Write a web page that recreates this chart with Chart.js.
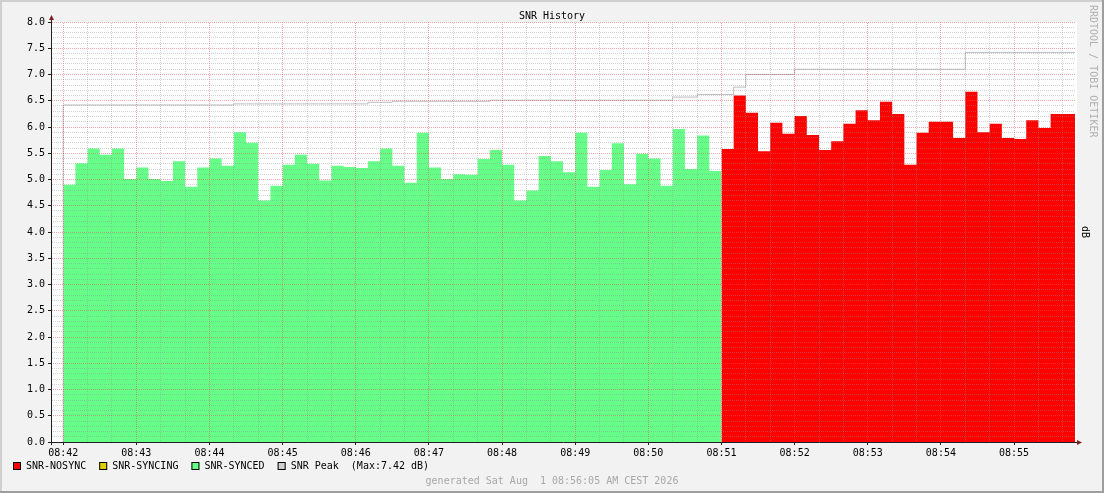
<!DOCTYPE html>
<html>
<head>
<meta charset="utf-8">
<title>SNR History</title>
<script src="https://cdn.jsdelivr.net/npm/chart.js@4.4.1/dist/chart.umd.min.js"></script>
<style>
  html, body { margin: 0; padding: 0; background: #f2f2f2; }
  canvas { display: block; }
</style>
</head>
<body>
<canvas id="snrChart" width="1104" height="493"></canvas>
<script>
  /* Data: one sample every 10 s, first sample at 08:42:00 */
  const sampleStep = 10;

  const syncedSnr = [
    4.90, 5.31, 5.59, 5.47, 5.59, 5.01, 5.23, 5.01, 4.97, 5.35,
    4.86, 5.23, 5.40, 5.26, 5.90, 5.70, 4.60, 4.88, 5.28, 5.47,
    5.30, 4.98, 5.26, 5.24, 5.22, 5.35, 5.59, 5.26, 4.94, 5.89,
    5.23, 5.01, 5.10, 5.09, 5.39, 5.56, 5.28, 4.60, 4.79, 5.45,
    5.35, 5.14, 5.89, 4.86, 5.18, 5.69, 4.91, 5.49, 5.40, 4.88,
    5.96, 5.20, 5.84, 5.16
  ];

  const nosyncSnr = [
    5.58, 6.60, 6.27, 5.54, 6.08, 5.87, 6.21, 5.85, 5.56, 5.73,
    6.06, 6.32, 6.13, 6.48, 6.25, 5.28, 5.89, 6.10, 6.10, 5.79,
    6.67, 5.90, 6.06, 5.79, 5.77, 6.13, 5.98, 6.25, 6.25
  ];

  const syncingSnr = [];

  const peakSnr = [
    6.42, 6.42, 6.42, 6.42, 6.42, 6.42, 6.42, 6.42, 6.42, 6.42,
    6.42, 6.42, 6.42, 6.42, 6.44, 6.44, 6.44, 6.44, 6.44, 6.44,
    6.44, 6.44, 6.44, 6.44, 6.44, 6.47, 6.47, 6.49, 6.49, 6.49,
    6.49, 6.49, 6.49, 6.49, 6.49, 6.51, 6.51, 6.51, 6.51, 6.51,
    6.51, 6.51, 6.51, 6.51, 6.51, 6.51, 6.51, 6.51, 6.51, 6.51,
    6.57, 6.57, 6.62, 6.62, 6.62, 6.76, 7.00, 7.00, 7.00, 7.00,
    7.10, 7.10, 7.10, 7.10, 7.10, 7.10, 7.10, 7.10, 7.10, 7.10,
    7.10, 7.10, 7.10, 7.10, 7.42, 7.42, 7.42, 7.42, 7.42, 7.42,
    7.42, 7.42, 7.42
  ];

  const timeLabels = [
    '08:42', '08:43', '08:44', '08:45', '08:46', '08:47', '08:48',
    '08:49', '08:50', '08:51', '08:52', '08:53', '08:54', '08:55'
  ];

  const yTicks = [0, 0.5, 1, 1.5, 2, 2.5, 3, 3.5, 4, 4.5, 5, 5.5, 6, 6.5, 7, 7.5, 8];

  const generatedText = 'generated Sat Aug  1 08:56:05 AM CEST 2026';

  const ctx = document.getElementById('snrChart').getContext('2d');

  /* Colors */
  const FONT = 'DejaVu Sans Mono';
  const colAxis = '#202020';
  const colArrow = '#801f1f';

  // 1-on-1-off dotted grid: a checker pattern used as the line colour
  function dotPattern(color) {
    const p = document.createElement('canvas');
    p.width = 2;
    p.height = 2;
    const pc = p.getContext('2d');
    pc.fillStyle = color;
    pc.fillRect(0, 0, 1, 1);
    pc.fillRect(1, 1, 1, 1);
    return ctx.createPattern(p, 'repeat');
  }
  const colGrid = dotPattern('rgba(143,143,143,0.4)');
  const colMGrid = dotPattern('rgba(222,80,80,0.5)');

  /* Turn a sample list into step points; the last step is closed at its end time */
  function stepPoints(values, startIndex) {
    const pts = values.map((v, i) => ({ x: (startIndex + i) * sampleStep, y: v }));
    if (values.length) {
      pts.push({ x: (startIndex + values.length) * sampleStep, y: values[values.length - 1] });
    }
    return pts;
  }

  const peakPoints = stepPoints(peakSnr, 0);
  // peak line rises from the baseline at the first sample
  peakPoints.unshift({ x: 0, y: 0 });

  const minTime = -sampleStep;
  const maxTime = (syncedSnr.length + nosyncSnr.length) * sampleStep;
  const peakMax = Math.max(...peakSnr).toFixed(2);

  const datasets = [
    {
      label: 'SNR Peak  (Max:' + peakMax + ' dB)',
      data: peakPoints,
      borderColor: '#bdbdbd',
      backgroundColor: '#d0d0d0',
      borderWidth: 1,
      stepped: true,
      fill: false,
      pointRadius: 0
    },
    {
      label: 'SNR-NOSYNC',
      data: stepPoints(nosyncSnr, syncedSnr.length),
      borderColor: 'rgba(0,0,0,0)',
      backgroundColor: '#ff0000',
      stepped: true,
      fill: 'origin',
      pointRadius: 0
    },
    {
      label: 'SNR-SYNCING',
      data: stepPoints(syncingSnr, 0),
      borderColor: 'rgba(0,0,0,0)',
      backgroundColor: '#e0d000',
      stepped: true,
      fill: 'origin',
      pointRadius: 0
    },
    {
      label: 'SNR-SYNCED',
      data: stepPoints(syncedSnr, 0),
      borderColor: 'rgba(0,0,0,0)',
      backgroundColor: '#66ff88',
      stepped: true,
      fill: 'origin',
      pointRadius: 0
    }
  ];

  const legendOrder = ['SNR-NOSYNC', 'SNR-SYNCING', 'SNR-SYNCED', datasets[0].label];

  /* Background, frame, titles, legend, arrows */
  const rrdLook = {
    id: 'rrdLook',
    beforeDraw(chart) {
      const c = chart.ctx;
      const w = chart.width, h = chart.height;
      const a = chart.chartArea;
      c.save();
      c.fillStyle = '#f2f2f2';
      c.fillRect(0, 0, w, h);
      c.fillStyle = '#cfcfcf';
      c.fillRect(0, 0, w, 2);
      c.fillRect(0, 0, 2, h);
      c.fillStyle = '#9e9e9e';
      c.fillRect(0, h - 2, w, 2);
      c.fillRect(w - 2, 0, 2, h);
      c.fillStyle = '#ffffff';
      c.fillRect(a.left, a.top, a.right - a.left + 2, a.bottom - a.top);
      c.restore();
    },
    afterDraw(chart) {
      const c = chart.ctx;
      const a = chart.chartArea;
      c.save();
      c.font = '10px "' + FONT + '"';
      c.textBaseline = 'middle';

      // title
      c.fillStyle = '#000';
      c.textAlign = 'center';
      c.fillText('SNR History', chart.width / 2, 16);

      // axis extensions and arrows
      c.strokeStyle = colAxis;
      c.lineWidth = 1;
      c.beginPath();
      c.moveTo(a.left + 0.5, a.top);
      c.lineTo(a.left + 0.5, a.top - 2);
      c.moveTo(a.left + 0.5, a.bottom);
      c.lineTo(a.left + 0.5, a.bottom + 3);
      c.moveTo(a.left - 3, a.bottom + 0.5);
      c.lineTo(a.left, a.bottom + 0.5);
      c.moveTo(a.right, a.bottom + 0.5);
      c.lineTo(a.right + 2, a.bottom + 0.5);
      c.stroke();
      c.fillStyle = colArrow;
      c.beginPath();
      c.moveTo(a.left - 2, a.top - 2);
      c.lineTo(a.left + 3, a.top - 2);
      c.lineTo(a.left + 0.5, a.top - 7);
      c.closePath();
      c.fill();
      c.beginPath();
      c.moveTo(a.right + 2, a.bottom - 2);
      c.lineTo(a.right + 2, a.bottom + 3);
      c.lineTo(a.right + 7, a.bottom + 0.5);
      c.closePath();
      c.fill();

      // watermark
      c.save();
      c.translate(1093, 5);
      c.rotate(Math.PI / 2);
      c.textAlign = 'left';
      c.fillStyle = '#b0b0b0';
      c.fillText('RRDTOOL / TOBI OETIKER', 0, 0);
      c.restore();

      // unit label
      c.save();
      c.translate(1085, 232);
      c.rotate(Math.PI / 2);
      c.textAlign = 'center';
      c.fillStyle = '#000';
      c.fillText('dB', 0, 0);
      c.restore();

      // legend
      let x = 13;
      const ly = 466;
      c.textAlign = 'left';
      for (const name of legendOrder) {
        const ds = chart.data.datasets.find(d => d.label === name);
        c.fillStyle = ds.backgroundColor;
        c.fillRect(x, ly - 4, 8, 8);
        c.strokeStyle = '#000';
        c.strokeRect(x + 0.5, ly - 3.5, 7, 7);
        c.fillStyle = '#000';
        c.fillText(name, x + 13, ly);
        x += 13 + c.measureText(name).width + 13;
      }

      // generated line
      c.textAlign = 'center';
      c.fillStyle = '#a8a8a8';
      c.fillText(generatedText, chart.width / 2, 481);
      c.restore();
    }
  };

  const isMultiple = (value, every) => Math.round(value * 1000) % Math.round(every * 1000) === 0;
  const clear = 'rgba(0,0,0,0)';

  // eslint-disable-next-line no-undef
  const snrChart = new Chart(ctx, {
    type: 'line',
    data: { datasets: datasets },
    plugins: [rrdLook],
    options: {
      responsive: false,
      animation: false,
      devicePixelRatio: 1,
      events: [],
      layout: { padding: { top: 22, right: 29, bottom: 0, left: 0 } },
      plugins: {
        legend: { display: false },
        title: { display: false },
        tooltip: { enabled: false }
      },
      scales: {
        x: {
          type: 'linear',
          position: 'bottom',
          min: minTime,
          max: maxTime,
          afterBuildTicks: s => { s.ticks = timeLabels.map((_, i) => ({ value: i * 60 })); },
          afterFit: s => { s.height = 51; },
          grid: {
            z: 1,
            color: colMGrid,
            lineWidth: 1,
            drawTicks: true,
            tickLength: 3,
            tickColor: colAxis
          },
          border: { display: true, color: colAxis, width: 1, z: 2 },
          ticks: {
            autoSkip: false,
            maxRotation: 0,
            padding: 2,
            color: '#000',
            font: { family: FONT, size: 10 },
            callback: (v, i) => timeLabels[i]
          }
        },
        xMinor: {
          type: 'linear',
          position: 'bottom',
          min: minTime,
          max: maxTime,
          afterBuildTicks: s => {
            const t = [];
            for (let v = 0; v < maxTime; v += 20) t.push({ value: v });
            s.ticks = t;
          },
          afterFit: s => { s.height = 0; },
          grid: {
            z: 1,
            drawTicks: false,
            color: c => isMultiple(c.tick.value, 60) ? clear : colGrid
          },
          border: { display: false },
          ticks: { display: false }
        },
        y: {
          type: 'linear',
          position: 'left',
          min: 0,
          max: 8,
          afterBuildTicks: s => { s.ticks = yTicks.map(v => ({ value: v })); },
          afterFit: s => { s.width = 51; },
          grid: {
            z: 1,
            color: colMGrid,
            lineWidth: 1,
            drawTicks: true,
            tickLength: 3,
            tickColor: colAxis
          },
          border: { display: true, color: colAxis, width: 1, z: 2 },
          ticks: {
            padding: 3,
            color: '#000',
            font: { family: FONT, size: 10 },
            callback: v => Number(v).toFixed(1)
          }
        },
        yMinor: {
          type: 'linear',
          position: 'left',
          min: 0,
          max: 8,
          afterBuildTicks: s => {
            const t = [];
            for (let i = 1; i < 80; i++) t.push({ value: i / 10 });
            s.ticks = t;
          },
          afterFit: s => { s.width = 0; },
          grid: {
            z: 1,
            drawTicks: false,
            color: c => isMultiple(c.tick.value, 0.5) ? clear : colGrid
          },
          border: { display: false },
          ticks: { display: false }
        }
      }
    }
  });
</script>
</body>
</html>
